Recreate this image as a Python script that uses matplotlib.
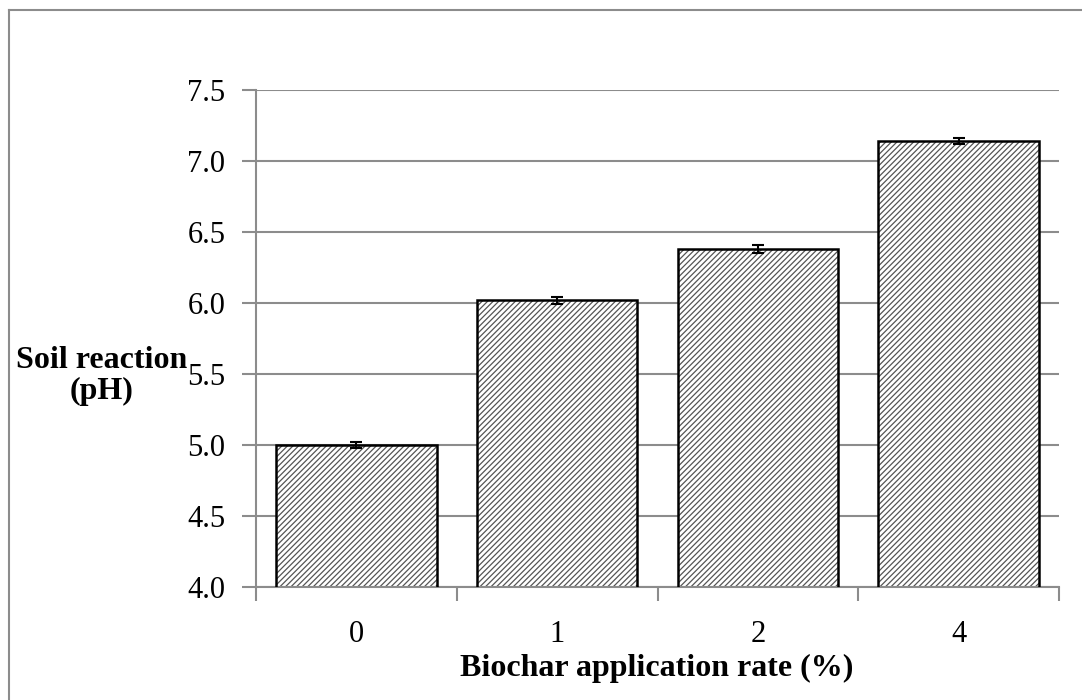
import matplotlib
matplotlib.use("Agg")
import matplotlib.pyplot as plt

rates = ["0", "1", "2", "4"]
ph = [5.00, 6.02, 6.38, 7.14]
ph_err = [0.02, 0.025, 0.03, 0.02]
yticks = [4.0, 4.5, 5.0, 5.5, 6.0, 6.5, 7.0, 7.5]

plt.rcParams['font.family'] = ['Liberation Serif', 'DejaVu Serif']
plt.rcParams['hatch.linewidth'] = 0.9
plt.rcParams['hatch.color'] = '#555555'

fig = plt.figure(figsize=(10.82, 7.0), dpi=100)
ax = fig.add_axes([256/1082, 1-587/700, (1059-256)/1082, (587-90)/700])

x = range(len(rates))
# hatched fill first, then the black outline on top
ax.bar(x, ph, width=0.8, bottom=0, color='white', hatch='//////', linewidth=0, zorder=2)
ax.bar(x, ph, width=0.8, bottom=0, fill=False, edgecolor='black', linewidth=1.8, zorder=3)
ax.errorbar(x, ph, yerr=ph_err, fmt='none', ecolor='black', elinewidth=1.5,
            capsize=4.5, capthick=1.5, zorder=4)

ax.set_ylim(4.0, 7.5)
ax.set_xlim(-0.5, len(rates) - 0.5)
ax.set_yticks(yticks)
ax.set_yticklabels(["%.1f" % v for v in yticks])
ax.set_xticks(x)
ax.set_xticklabels(rates)
ax.set_xticks([i - 0.5 for i in range(len(rates) + 1)], minor=True)
ax.tick_params(axis='x', which='major', length=0, pad=24, labelsize=22)
ax.tick_params(axis='x', which='minor', length=10, width=1.5, color='#8c8c8c')
ax.tick_params(axis='y', length=10, width=1.5, color='#8c8c8c', pad=12, labelsize=22)

ax.grid(axis='y', color='#8c8c8c', linewidth=1.5, zorder=0)
ax.set_axisbelow(True)
for side in ['top', 'right']:
    ax.spines[side].set_visible(False)
for side in ['left', 'bottom']:
    ax.spines[side].set_color('#8c8c8c')
    ax.spines[side].set_linewidth(1.5)

fig.text(102/1082, 1-376/700, "Soil reaction\n(pH)", ha='center', va='center',
         fontsize=23, fontweight='bold', linespacing=1.1)
fig.text(657/1082, 1-668/700, "Biochar application rate (%)", ha='center', va='center',
         fontsize=23, fontweight='bold')

# outer frame, open on the right and bottom
fig.add_artist(plt.Line2D([9/1082, 9/1082], [0, 1-10/700], transform=fig.transFigure,
                          color='#8c8c8c', linewidth=1.5))
fig.add_artist(plt.Line2D([9/1082, 1], [1-10/700, 1-10/700], transform=fig.transFigure,
                          color='#8c8c8c', linewidth=1.5))

fig.savefig("out.png", dpi=100)
